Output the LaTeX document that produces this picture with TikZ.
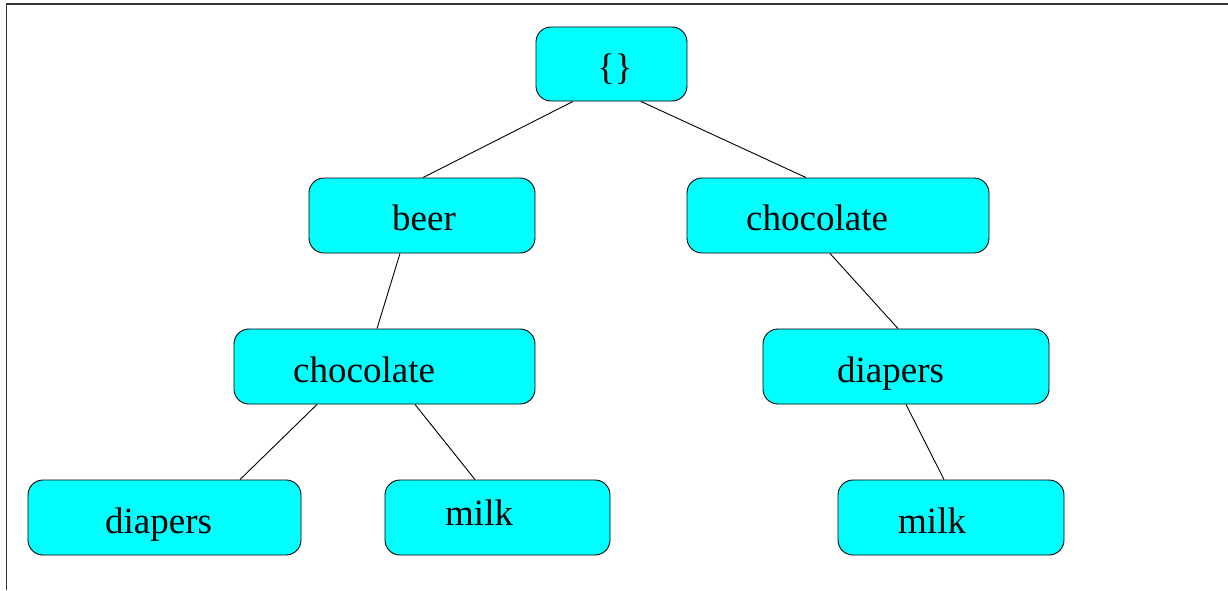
\documentclass[tikz,border=0pt]{standalone}
\usepackage{fontspec}
\setmainfont{Liberation Serif}
\definecolor{boxcyan}{RGB}{0,255,255}
\begin{document}
\begin{tikzpicture}[x=1pt,y=-1pt,
  box/.style={draw=black, fill=boxcyan, rounded corners=15pt, line width=0.9pt, inner sep=0pt},
  lbl/.style={anchor=base west, inner sep=0pt, font=\fontsize{37}{44}\selectfont},
  edge/.style={draw=black, line width=0.9pt}]
\useasboundingbox (0,0) rectangle (1228,590);
\draw[line width=1.6pt, black!80] (6.5,590) -- (6.5,4) -- (1228,4);
% boxes
\node[box, minimum width=151pt, minimum height=74pt] (root) at (611.5,64) {};
\node[box, minimum width=226pt, minimum height=75pt] (beer) at (422,215.5) {};
\node[box, minimum width=302pt, minimum height=75pt] (chocA) at (838,215.5) {};
\node[box, minimum width=301pt, minimum height=75pt] (chocB) at (384.5,366.5) {};
\node[box, minimum width=286pt, minimum height=75pt] (diapA) at (906,366.5) {};
\node[box, minimum width=273pt, minimum height=75pt] (diapB) at (164.5,517.5) {};
\node[box, minimum width=225pt, minimum height=75pt] (milkA) at (497.5,517.5) {};
\node[box, minimum width=226pt, minimum height=75pt] (milkB) at (951,517.5) {};
% labels
\node[lbl] (troot) at (597,79) {\{\}};
\node[lbl] (tbeer) at (392,230) {beer};
\node[lbl] (tchocA) at (746,230) {chocolate};
\node[lbl] (tchocB) at (293,382) {chocolate};
\node[lbl] (tdiapA) at (837,382) {diapers};
\node[lbl] (tdiapB) at (105,533) {diapers};
\node[lbl] (tmilkA) at (445,525) {milk};
\node[lbl] (tmilkB) at (898,533) {milk};
% edges
\draw[edge] ([xshift=-38.5pt]root.south) -- ([xshift=1pt]beer.north);
\draw[edge] ([xshift=29.5pt]root.south) -- ([xshift=-32pt]chocA.north);
\draw[edge] ([xshift=-22pt]beer.south) -- ([xshift=-7.5pt]chocB.north);
\draw[edge] ([xshift=-8pt]chocA.south) -- ([xshift=-8pt]diapA.north);
\draw[edge] ([xshift=-67.5pt]chocB.south) -- ([xshift=75.5pt]diapB.north);
\draw[edge] ([xshift=30.5pt]chocB.south) -- ([xshift=-22.5pt]milkA.north);
\draw[edge] ([xshift=0pt]diapA.south) -- ([xshift=-7pt]milkB.north);
\end{tikzpicture}
\end{document}
